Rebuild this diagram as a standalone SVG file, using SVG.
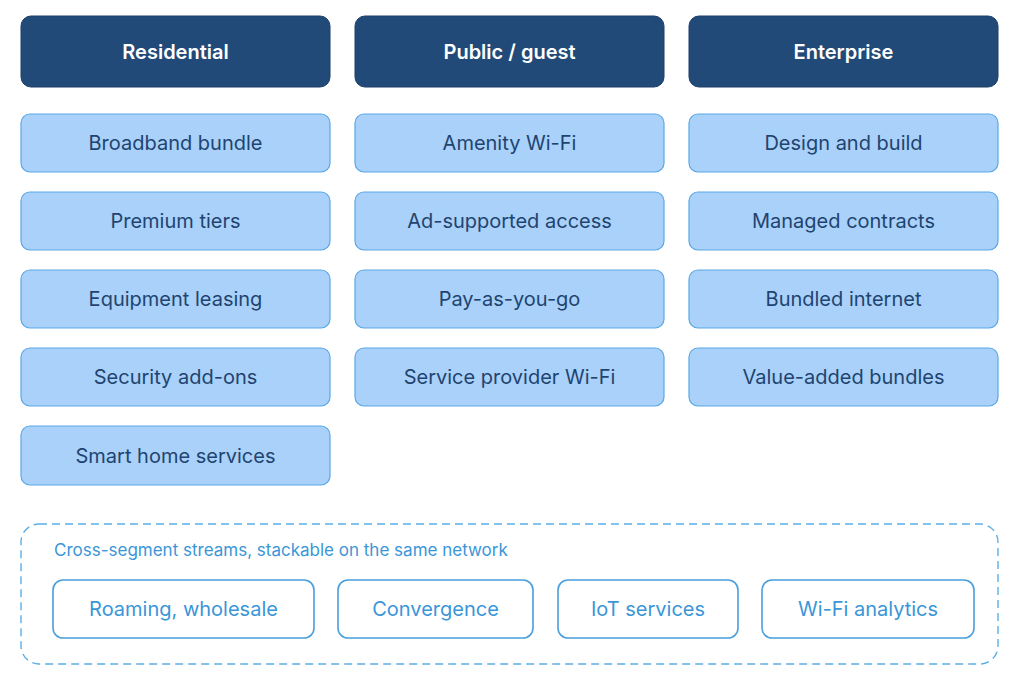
<svg xmlns="http://www.w3.org/2000/svg" width="1024" height="687" viewBox="0 0 1024 687">
<style>
text{font-family:"Inter","Noto Sans","Liberation Sans",sans-serif;text-anchor:middle;dominant-baseline:central}
.h rect{fill:#214a79;stroke:#1d3f68;stroke-width:1}
.h text{fill:#fff;font-size:20px;font-weight:600}
.i rect{fill:#a9d1fa;stroke:#5aa8e6;stroke-width:1.2}
.i text{fill:#1f4470;font-size:20px}
.s rect{fill:#fff;stroke:#4a9fdd;stroke-width:1.6}
.s text{fill:#3a96d8;font-size:20px}
</style>
<rect x="21" y="524" width="977" height="140" rx="18" fill="none" stroke="#5aaee6" stroke-width="1.4" stroke-dasharray="8,5"/>
<text x="54" y="550" style="text-anchor:start;fill:#3a96d8;font-size:17px">Cross-segment streams, stackable on the same network</text>
<g id="h1" class="h"><rect x="21" y="16" width="309" height="71" rx="10"/><text x="175.5" y="52">Residential</text></g>
<g id="h2" class="h"><rect x="355" y="16" width="309" height="71" rx="10"/><text x="509.5" y="52">Public / guest</text></g>
<g id="h3" class="h"><rect x="689" y="16" width="309" height="71" rx="10"/><text x="843.5" y="52">Enterprise</text></g>
<g id="r1" class="i"><rect x="21" y="114" width="309" height="58" rx="9"/><text x="175.5" y="143">Broadband bundle</text></g>
<g id="r2" class="i"><rect x="21" y="192" width="309" height="58" rx="9"/><text x="175.5" y="221">Premium tiers</text></g>
<g id="r3" class="i"><rect x="21" y="270" width="309" height="58" rx="9"/><text x="175.5" y="299">Equipment leasing</text></g>
<g id="r4" class="i"><rect x="21" y="348" width="309" height="58" rx="9"/><text x="175.5" y="377">Security add-ons</text></g>
<g id="r5" class="i"><rect x="21" y="426" width="309" height="59" rx="9"/><text x="175.5" y="456">Smart home services</text></g>
<g id="p1" class="i"><rect x="355" y="114" width="309" height="58" rx="9"/><text x="509.5" y="143">Amenity Wi-Fi</text></g>
<g id="p2" class="i"><rect x="355" y="192" width="309" height="58" rx="9"/><text x="509.5" y="221">Ad-supported access</text></g>
<g id="p3" class="i"><rect x="355" y="270" width="309" height="58" rx="9"/><text x="509.5" y="299">Pay-as-you-go</text></g>
<g id="p4" class="i"><rect x="355" y="348" width="309" height="58" rx="9"/><text x="509.5" y="377">Service provider Wi-Fi</text></g>
<g id="e1" class="i"><rect x="689" y="114" width="309" height="58" rx="9"/><text x="843.5" y="143">Design and build</text></g>
<g id="e2" class="i"><rect x="689" y="192" width="309" height="58" rx="9"/><text x="843.5" y="221">Managed contracts</text></g>
<g id="e3" class="i"><rect x="689" y="270" width="309" height="58" rx="9"/><text x="843.5" y="299">Bundled internet</text></g>
<g id="e4" class="i"><rect x="689" y="348" width="309" height="58" rx="9"/><text x="843.5" y="377">Value-added bundles</text></g>
<g id="s1" class="s"><rect x="53" y="580" width="261" height="58" rx="10"/><text x="183.5" y="609">Roaming, wholesale</text></g>
<g id="s2" class="s"><rect x="338" y="580" width="195" height="58" rx="10"/><text x="435.5" y="609">Convergence</text></g>
<g id="s3" class="s"><rect x="558" y="580" width="180" height="58" rx="10"/><text x="648" y="609">IoT services</text></g>
<g id="s4" class="s"><rect x="762" y="580" width="212" height="58" rx="10"/><text x="868" y="609">Wi-Fi analytics</text></g>
<g id="connectors"/>
</svg>
